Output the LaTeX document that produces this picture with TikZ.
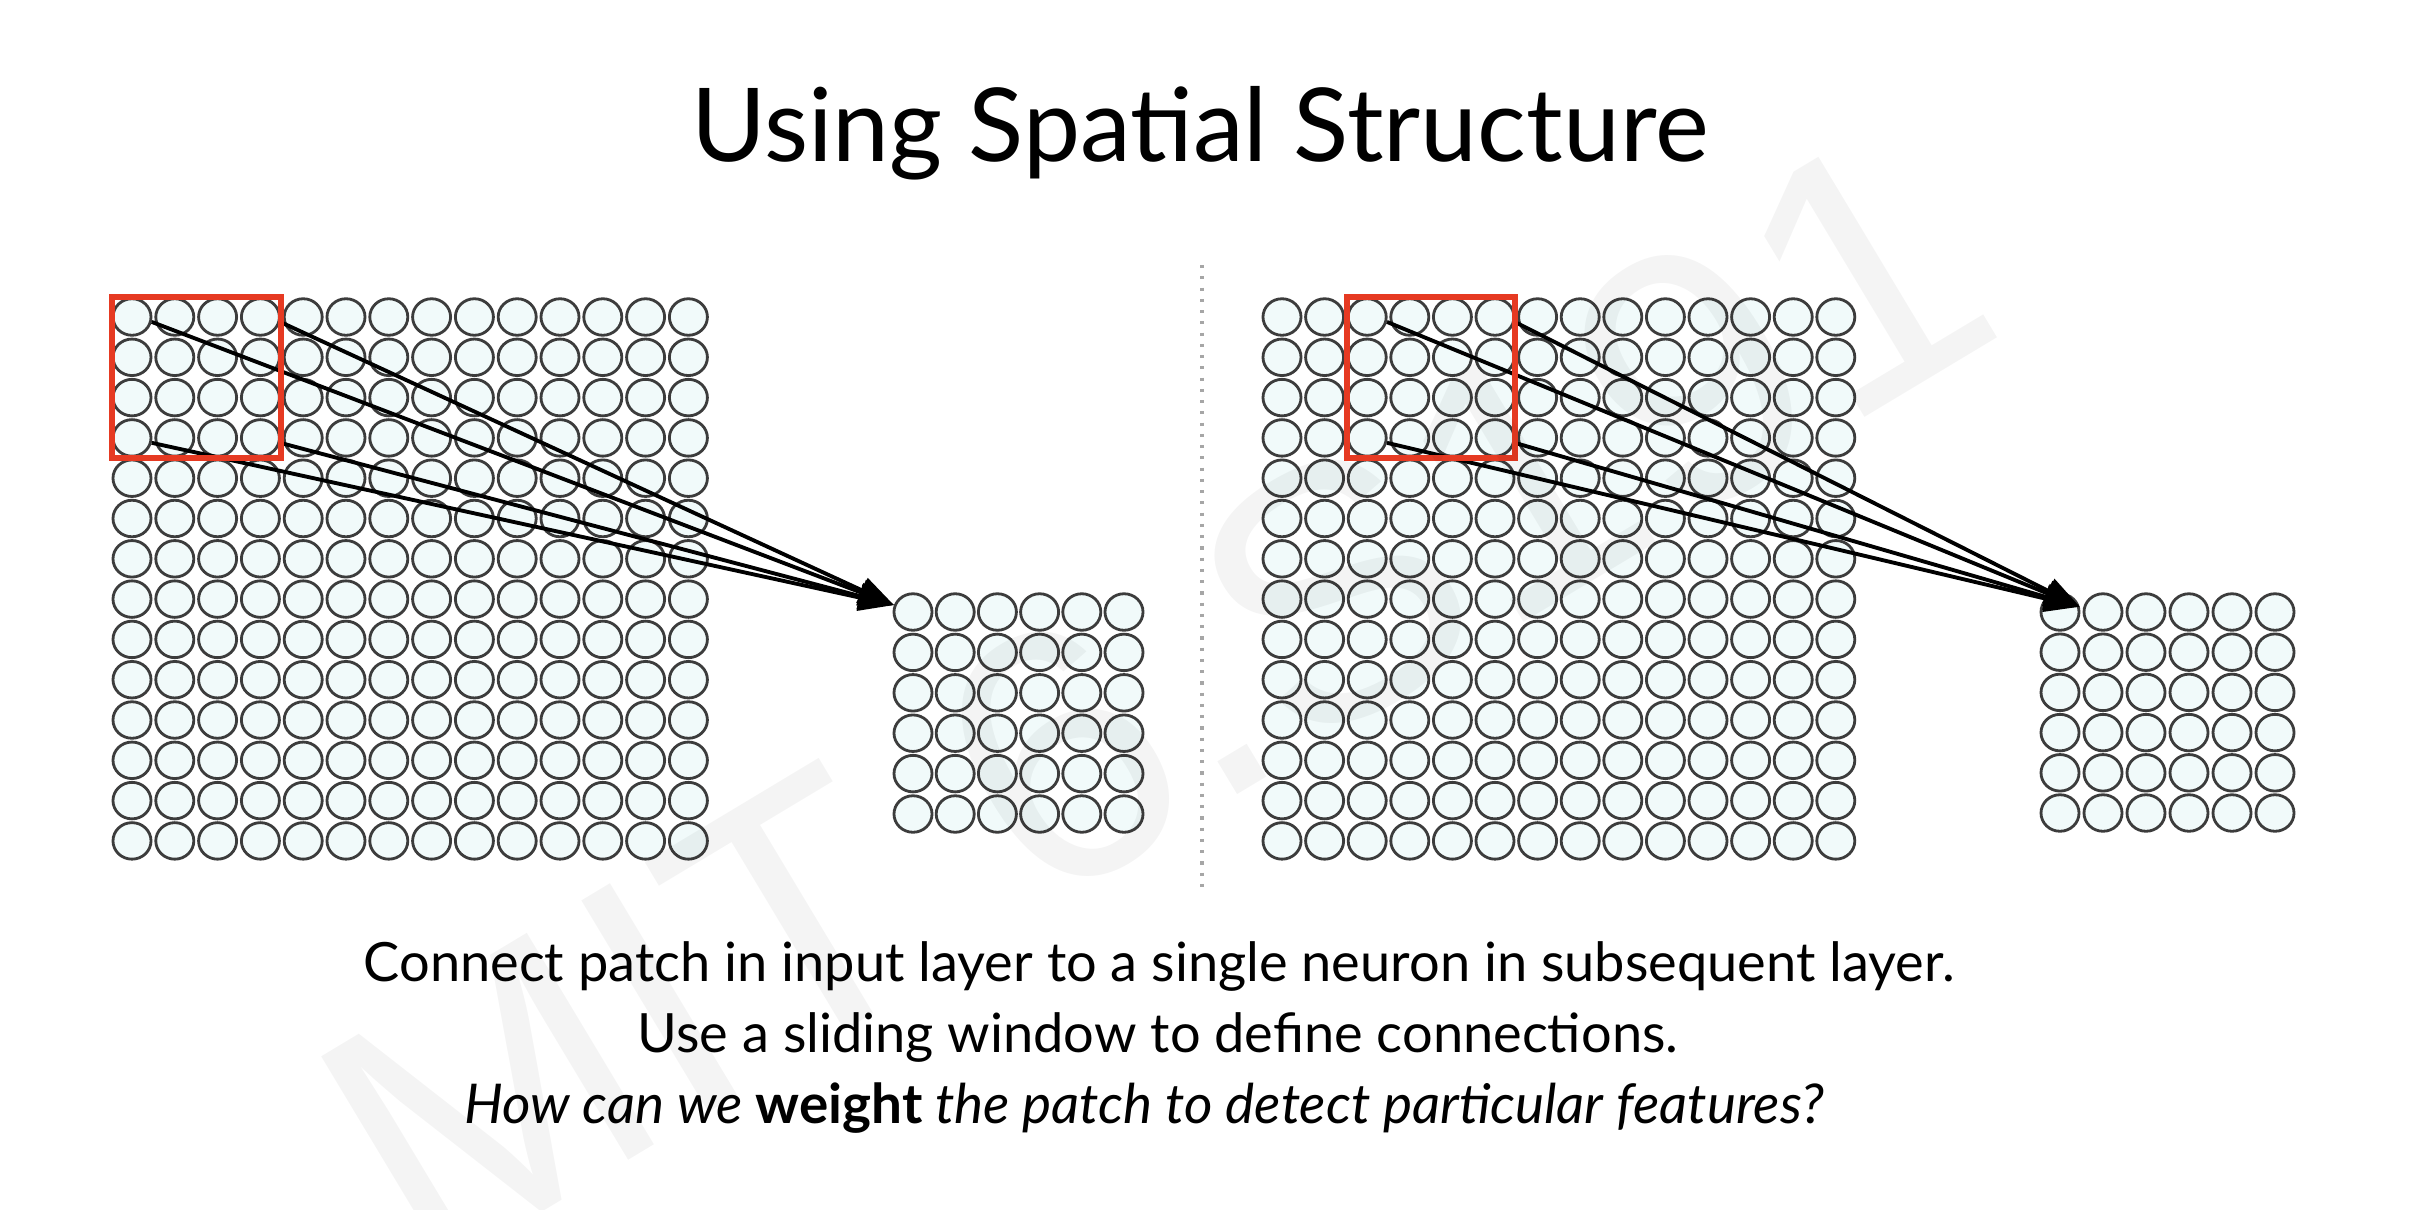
\documentclass[tikz,border=0pt]{standalone}
\usepackage{fontspec}
\setmainfont{Lato}
\newfontfamily\wmfont{Liberation Sans}
\usetikzlibrary{shapes.geometric,arrows.meta,fit}
\definecolor{cfill}{HTML}{F1FAFA}
\definecolor{cedge}{HTML}{3C3C3C}
\definecolor{pred}{HTML}{E63A22}
\begin{document}
\begin{tikzpicture}[x=0.01cm,y=-0.01cm,
  neuron/.style={ellipse, draw=cedge, fill=cfill, line width=0.8pt, minimum width=0.38cm, minimum height=0.365cm, inner sep=0pt},
  patchbox/.style={draw=pred, line width=1.7pt, inner sep=0pt, rectangle},
  conn/.style={line width=1.1pt, -{Triangle[length=10pt,width=7.5pt]}},
  sepline/.style={draw=gray!70, line width=0.9pt, dash pattern=on 0.9pt off 2.3pt},
]
\useasboundingbox[fill=white] (0,0) rectangle (2412,1209);
% big grids
\foreach \c in {0,...,13}{\foreach \r in {0,...,13}{
  \node[neuron] (L-\c-\r) at ({132+42.8*\c},{317+40.3*\r}) {};
  \node[neuron] (R-\c-\r) at ({1282+42.6*\c},{317+40.3*\r}) {};
}}
% small grids
\foreach \c in {0,...,5}{\foreach \r in {0,...,5}{
  \node[neuron] (LS-\c-\r) at ({913+42.2*\c},{612+40.4*\r}) {};
  \node[neuron] (RS-\c-\r) at ({2060+43*\c},{612+40.2*\r}) {};
}}
% connections
\foreach \s in {L-0-0,L-3-0,L-0-3,L-3-3} \draw[conn] (\s.-14) -- (LS-0-0.160);
\foreach \s in {R-2-0,R-5-0,R-2-3,R-5-3} \draw[conn] (\s.-14) -- (RS-0-0.15);
% patches
\node[patchbox, fit=(L-0-0)(L-3-3)] (pL) {};
\node[patchbox, fit=(R-2-0)(R-5-3)] (pR) {};
% separator
\coordinate (dtop) at (1202,265);
\coordinate (dbot) at (1202,892);
\draw[sepline] (dtop) -- (dbot);
% texts
\node[anchor=base, inner sep=0pt, font=\fontsize{29}{34}\selectfont] (title) at (1200,161) {Using Spatial Structure};
\node[anchor=base, inner sep=0pt, font=\fontsize{15.4}{18}\selectfont] (l1) at (1159,981) {Connect patch in input layer to a single neuron in subsequent layer.};
\node[anchor=base, inner sep=0pt, font=\fontsize{15.4}{18}\selectfont] (l2) at (1158,1052) {Use a sliding window to define connections.};
\node[anchor=base, inner sep=0pt, font=\fontsize{15.6}{18}\selectfont] (l3) at (1144,1123) {\itshape How can we \textbf{\upshape weight} the patch to detect particular features?};
% watermark
\node[rotate=31, text opacity=0.045, font=\fontsize{102}{102}\selectfont\wmfont] (wm) at (1155,700) {MIT 6.S191};
\end{tikzpicture}
\end{document}
